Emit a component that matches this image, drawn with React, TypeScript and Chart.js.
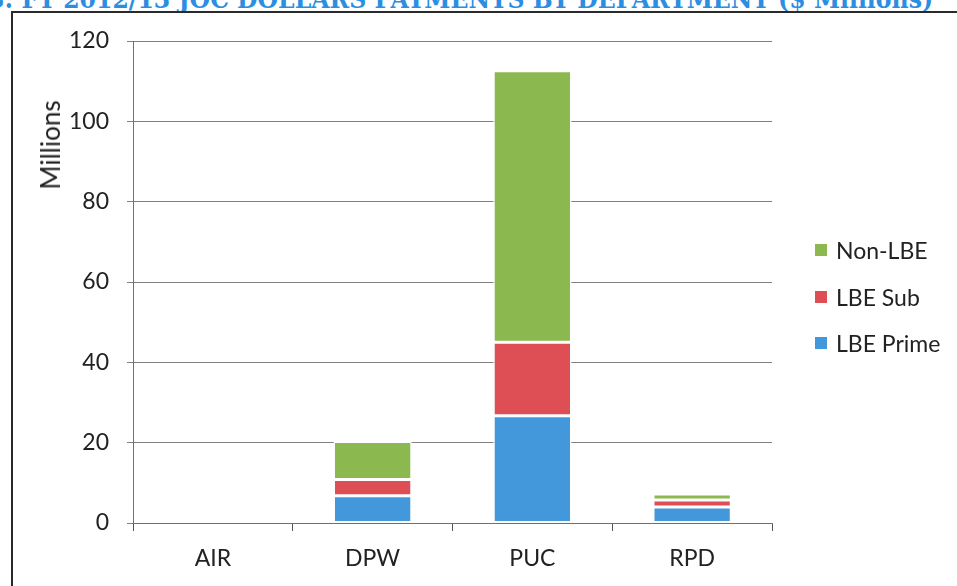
import React, { useEffect, useRef } from "react";
import { Chart, registerables } from "chart.js";

Chart.register(...registerables);

const departments = ["AIR", "DPW", "PUC", "RPD"];
const lbePrime = [0, 6.8, 26.7, 4.0];
const lbeSub = [0, 4.0, 18.3, 1.7];
const nonLbe = [0, 9.5, 67.6, 1.5];
const yMin = 0;
const yMax = 120;
const yStep = 20;
const seriesNames = ["LBE Prime", "LBE Sub", "Non-LBE"];
const seriesColors = ["#4398dc", "#dd4f55", "#8cb94f"];
const titleText = "3: FY 2012/13 JOC DOLLARS PAYMENTS BY DEPARTMENT ($ Millions)";
const axisTitle = "Millions";

const FONT = "Lato, 'Open Sans', sans-serif";

export default function App() {
  const canvasRef = useRef<HTMLCanvasElement | null>(null);
  const titleRef = useRef<HTMLSpanElement | null>(null);

  useEffect(() => {
    document.body.style.margin = "0";
    const t = titleRef.current;
    if (t) {
      const w = t.getBoundingClientRect().width;
      const target = 945;
      t.style.transform = `scaleX(${target / w})`;
    }
    const canvas = canvasRef.current;
    if (!canvas) return;
    const seriesData = [lbePrime, lbeSub, nonLbe];
    const chart = new Chart(canvas, {
      type: "bar",
      data: {
        labels: departments,
        datasets: seriesNames.map((name, i) => ({
          label: name,
          data: seriesData[i],
          backgroundColor: seriesColors[i],
          borderColor: "#ffffff",
          borderWidth: 1.5,
          borderSkipped: false,
          barPercentage: 0.49,
          categoryPercentage: 1,
        })),
      },
      options: {
        responsive: false,
        animation: false,
        layout: { padding: { left: 0, top: 41, right: 185, bottom: 0 } },
        plugins: {
          legend: { display: false },
          tooltip: { enabled: false },
          title: { display: false },
        },
        scales: {
          x: {
            stacked: true,
            offset: true,
            grid: {
              display: true,
              drawOnChartArea: false,
              drawTicks: true,
              tickLength: 8,
              color: "#555",
              offset: true,
            },
            border: { display: true, color: "#707070", width: 1 },
            ticks: {
              color: "#222",
              font: { family: FONT, size: 23 },
              padding: 14,
            },
            afterFit: (s: any) => {
              s.height = 63;
            },
          },
          y: {
            stacked: true,
            min: yMin,
            max: yMax,
            ticks: {
              stepSize: yStep,
              color: "#222",
              font: { family: FONT, size: 23 },
              padding: 18,
            },
            grid: {
              color: "#808080",
              lineWidth: 1,
              drawTicks: true,
              tickLength: 6,
            },
            border: { display: true, color: "#707070", width: 1 },
            afterFit: (s: any) => {
              s.width = 133;
            },
          },
        },
      },
    });
    return () => chart.destroy();
  }, []);

  const legendItems = [2, 1, 0];

  return (
    <div
      style={{
        position: "fixed",
        left: 0,
        top: 0,
        width: 957,
        height: 586,
        overflow: "hidden",
        background: "#fff",
      }}
    >
      <div
        style={{
          position: "absolute",
          right: 24,
          top: -14,
          whiteSpace: "nowrap",
          fontFamily: "'DejaVu Serif', serif",
          fontWeight: "bold",
          fontSize: 26,
          lineHeight: "27px",
          color: "#2b8ee0",
        }}
      >
        <span ref={titleRef} style={{ display: "inline-block", transformOrigin: "right center" }}>
          {titleText}
        </span>
      </div>
      <div
        style={{
          position: "absolute",
          left: 11,
          top: 11,
          width: 960,
          height: 600,
          borderLeft: "2px solid #2a2a2a",
          borderTop: "2px solid #2a2a2a",
        }}
      />
      <canvas
        ref={canvasRef}
        width={957}
        height={586}
        style={{ position: "absolute", left: 0, top: 0, width: 957, height: 586 }}
      />
      <div
        style={{
          position: "absolute",
          left: 50,
          top: 145,
          transform: "translate(-50%, -50%) rotate(-90deg)",
          fontFamily: FONT,
          fontSize: 26,
          color: "#222",
          whiteSpace: "nowrap",
        }}
      >
        {axisTitle}
      </div>
      {legendItems.map((idx, row) => (
        <div
          key={seriesNames[idx]}
          style={{
            position: "absolute",
            left: 815,
            top: 250 + row * 46.5 - 15,
            height: 30,
            display: "flex",
            alignItems: "center",
            fontFamily: FONT,
            fontSize: 23,
            color: "#222",
            whiteSpace: "nowrap",
          }}
        >
          <span
            style={{
              display: "inline-block",
              width: 12,
              height: 12,
              background: seriesColors[idx],
              marginRight: 9,
            }}
          />
          {seriesNames[idx]}
        </div>
      ))}
    </div>
  );
}
